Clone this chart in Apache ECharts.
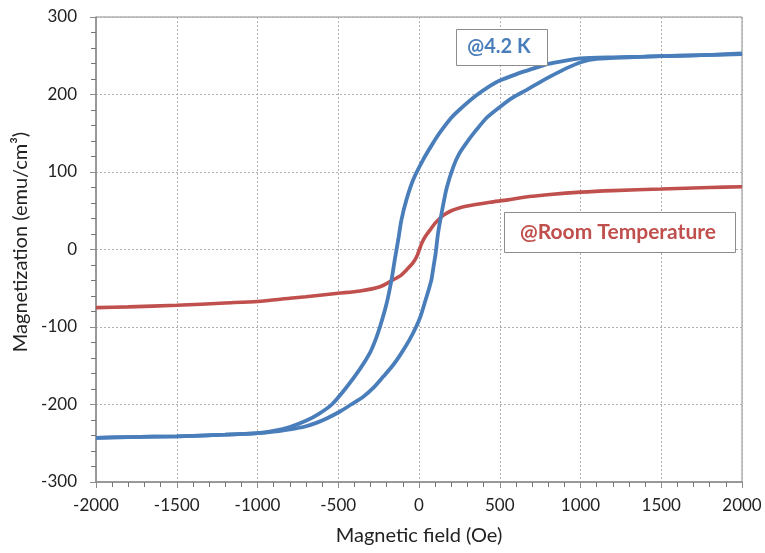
<!DOCTYPE html>
<html>
<head>
<meta charset="utf-8">
<script src="https://cdn.jsdelivr.net/npm/echarts@6/dist/echarts.min.js"></script>
<style>
  html, body { margin: 0; padding: 0; background: #fff; }
  #main { width: 765px; height: 553px; }
</style>
</head>
<body>
<div id="main"></div>
<script>
// 4.2 K loop, field sweeping down from +2000 Oe
let downField = [2000, 1800, 1600, 1400, 1200, 1000, 900, 800, 700, 600, 500, 440, 350, 254, 200, 130, 80, 26, -36, -78, -109, -129, -150, -170, -201, -242, -270, -303, -365, -450, -540, -620, -700, -800, -900, -1000, -1200, -1500, -1800, -2000]
let downMoment = [252, 251, 250, 249, 248, 246.5, 243.5, 239.5, 233, 226, 218, 211, 198, 181, 170, 151, 135, 116, 90, 64, 38, 12, -13, -39, -70, -100, -117, -133, -154, -178, -200, -212, -221, -229, -234, -237, -239, -241, -242, -243]

// 4.2 K loop, field sweeping back up from -2000 Oe
let upField = [-2000, -1800, -1500, -1200, -1000, -900, -800, -716, -640, -572, -489, -420, -345, -280, -221, -160, -110, -60, -16, 10, 35, 60, 77, 90, 103, 118, 140, 171, 213, 250, 295, 350, 419, 501, 580, 667, 750, 811, 914, 1007, 1100, 1300, 1500, 1800, 2000]
let upMoment = [-243, -242, -241, -239, -237, -235, -232, -229, -224, -218, -209, -200, -190, -178, -164, -149, -134, -117, -99, -86, -69, -52, -39, -22, -5, 21, 47, 79, 107, 124, 138, 153, 170, 184, 196, 206, 216, 223, 234, 242, 246, 248, 249.5, 251, 253]

// room temperature curve
let roomField = [-2000, -1800, -1500, -1200, -1000, -800, -700, -500, -365, -241, -159, -110, -76, -40, -14, 17, 40, 68, 100, 150, 200, 254, 350, 440, 550, 650, 811, 1000, 1200, 1500, 1800, 2000]
let roomMoment = [-75, -74, -72, -69, -67, -63, -61, -56.5, -53.5, -48, -39, -33, -26, -18, -9, 8, 17, 25, 34, 44, 50, 54, 58, 61, 64, 67.5, 71, 74, 76, 78, 80, 81]

let pairs = (xs, ys) => xs.map((x, i) => [x, ys[i]])

let blue = '#4a7ebb'
let red = '#c0504d'
let font = 'Lato, "Open Sans", sans-serif'

var chart = echarts.init(document.getElementById('main'))

let dotted = { show: true, lineStyle: { color: '#b0b0b0', type: [2, 2], width: 1 } }
let axisGray = '#8c8c8c'

let option = {
  animation: false,
  grid: { left: 96, right: 23, top: 17, bottom: 71, show: true, borderColor: axisGray, borderWidth: 1 },
  xAxis: {
    type: 'value', min: -2000, max: 2000, interval: 500,
    name: 'Magnetic field (Oe)', nameLocation: 'middle', nameGap: 44,
    nameTextStyle: { fontFamily: font, fontSize: 20, color: '#222' },
    axisLine: { onZero: false, lineStyle: { color: axisGray, width: 1.5 } },
    axisTick: { show: true, length: 6, lineStyle: { color: axisGray } },
    minorTick: { show: true, splitNumber: 5, length: 5, lineStyle: { color: '#777', width: 1 } },
    axisLabel: { fontFamily: font, fontSize: 17, color: '#222', margin: 15, formatter: v => String(v) },
    splitLine: dotted
  },
  yAxis: {
    type: 'value', min: -300, max: 300, interval: 100,
    name: 'Magnetization (emu/cm³)', nameLocation: 'middle', nameGap: 60, nameRotate: 90,
    nameTextStyle: { fontFamily: font, fontSize: 20, color: '#222', padding: [0, 0, 0, 15] },
    axisLine: { show: true, onZero: false, lineStyle: { color: axisGray, width: 1.5 } },
    axisTick: { show: true, length: 6, lineStyle: { color: axisGray } },
    minorTick: { show: true, splitNumber: 5, length: 5, lineStyle: { color: '#777', width: 1 } },
    axisLabel: { fontFamily: font, fontSize: 17, color: '#222', margin: 19 },
    splitLine: dotted
  },
  series: [
    { name: 'room', type: 'line', data: pairs(roomField, roomMoment), showSymbol: false,
      smooth: 0.25, lineStyle: { color: red, width: 3.6 } },
    { name: '4.2K down', type: 'line', data: pairs(downField, downMoment), showSymbol: false,
      smooth: 0.25, lineStyle: { color: blue, width: 3.8 } },
    { name: '4.2K up', type: 'line', data: pairs(upField, upMoment), showSymbol: false,
      smooth: 0.25, lineStyle: { color: blue, width: 3.8 } }
  ],
  graphic: [
    { type: 'rect', left: 456, top: 29, shape: { width: 91, height: 36 },
      style: { fill: '#fff', stroke: axisGray, lineWidth: 1 }, z: 10 },
    { type: 'text', x: 499, y: 47, z: 11,
      style: { text: '@4.2 K', fill: blue, font: 'bold 20px ' + font, align: 'center', verticalAlign: 'middle' } },
    { type: 'rect', left: 504, top: 212, shape: { width: 231, height: 40 },
      style: { fill: '#fff', stroke: axisGray, lineWidth: 1 }, z: 10 },
    { type: 'text', x: 618, y: 232, z: 11,
      style: { text: '@Room Temperature', fill: red, font: 'bold 21px ' + font, align: 'center', verticalAlign: 'middle' } }
  ]
}

chart.setOption(option)
</script>
</body>
</html>
